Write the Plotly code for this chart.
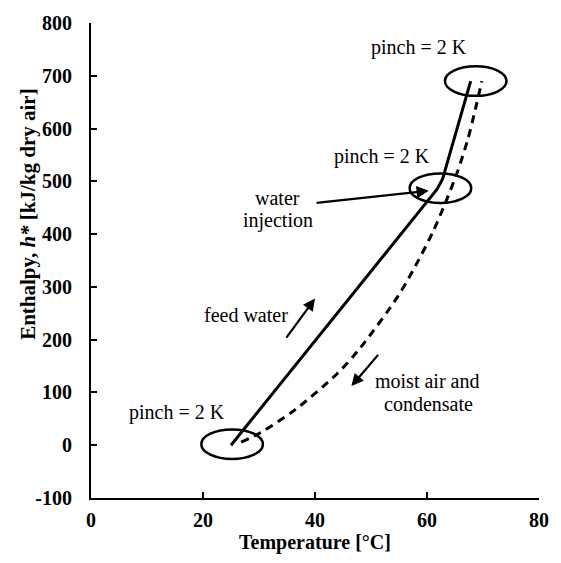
import plotly.graph_objects as go

# Feed water (solid) and moist air / condensate (dashed) paths, T in °C, h* in kJ/kg dry air
feed_T = [25.0, 61.8, 62.8, 67.8]
feed_h = [0, 485, 505, 690]
air_T = [26.8, 30.3, 36.3, 43.9, 47.9, 54.8, 58.0, 61.0, 63.5, 65.5, 67.3, 68.6, 69.8]
air_h = [6, 24, 66, 135, 182, 282, 341, 403, 465, 520, 580, 635, 690]

x_ticks = [0, 20, 40, 60, 80]
y_ticks = [-100, 0, 100, 200, 300, 400, 500, 600, 700, 800]

# Pinch points marked with ellipses: (T centre, h centre)
pinch_T = [25.2, 62.4, 68.7]
pinch_h = [2, 487, 690]

SERIF = "Liberation Serif, Times New Roman, serif"

fig = go.Figure()
fig.add_trace(go.Scatter(x=feed_T, y=feed_h, mode="lines",
                         line=dict(color="black", width=3), showlegend=False))
fig.add_trace(go.Scatter(x=air_T, y=air_h, mode="lines",
                         line=dict(color="black", width=3, dash="8px,6px",
                                   shape="spline", smoothing=0.8),
                         showlegend=False))

for tc, hc in zip(pinch_T, pinch_h):
    fig.add_shape(type="circle", xref="x", yref="y",
                  x0=tc - 5.5, x1=tc + 5.5, y0=hc - 28, y1=hc + 28,
                  line=dict(color="black", width=2.5))

txt_font = dict(family=SERIF, size=20, color="black")

def label(x, y, text):
    fig.add_annotation(x=x, y=y, xref="paper", yref="paper", text=text,
                       showarrow=False, font=txt_font, xanchor="center", yanchor="middle")

def arrow(t0, h0, t1, h1):
    fig.add_annotation(x=t1, y=h1, ax=t0, ay=h0, xref="x", yref="y", axref="x", ayref="y",
                       text="", showarrow=True, arrowhead=2, arrowsize=1.1,
                       arrowwidth=2.2, arrowcolor="black")

# paper coordinates from plot area (x: 91..545 px, y: 18..498 px)
def px(x):
    return (x - 91) / 454

def py(y):
    return (498 - y) / 480

label(px(423), py(43), "pinch = 2 K")
label(px(386), py(153), "pinch = 2 K")
label(px(178), py(412), "pinch = 2 K")
label(px(280), py(195), "water")
label(px(280), py(218), "injection")
label(px(248), py(313), "feed water")
label(px(432), py(380), "moist air and")
label(px(433), py(403), "condensate")

arrow(40.0, 459, 60.3, 482)
arrow(34.7, 201, 40.0, 278)
arrow(51.5, 174, 46.5, 112)

fig.add_annotation(x=-(91 - 27) / 454, y=py(211), xref="paper", yref="paper",
                   text="<b>Enthalpy, <i>h*</i> [kJ/kg dry air]</b>", textangle=-90,
                   showarrow=False, font=dict(family=SERIF, size=21, color="black"),
                   xanchor="center", yanchor="middle")

axis_common = dict(showgrid=False, zeroline=False, showline=True, linecolor="black",
                   linewidth=2, ticks="inside", ticklen=6, tickwidth=1.5, tickcolor="black",
                   tickfont=dict(family=SERIF, size=20, color="black", weight="bold"))

fig.update_xaxes(range=[0, 80], tickvals=x_ticks, ticktext=[str(v) for v in x_ticks],
                 title=dict(text="<b>Temperature [°C]</b>", standoff=4,
                            font=dict(family=SERIF, size=20, color="black")),
                 ticklabelstandoff=3, **axis_common)
fig.update_yaxes(range=[-100, 800], tickvals=y_ticks, ticktext=[str(v) for v in y_ticks],
                 ticklabelstandoff=13, **axis_common)

fig.update_layout(width=561, height=563, margin=dict(l=91, r=16, t=18, b=65),
                  paper_bgcolor="white", plot_bgcolor="white")

fig.write_html("out.html")
